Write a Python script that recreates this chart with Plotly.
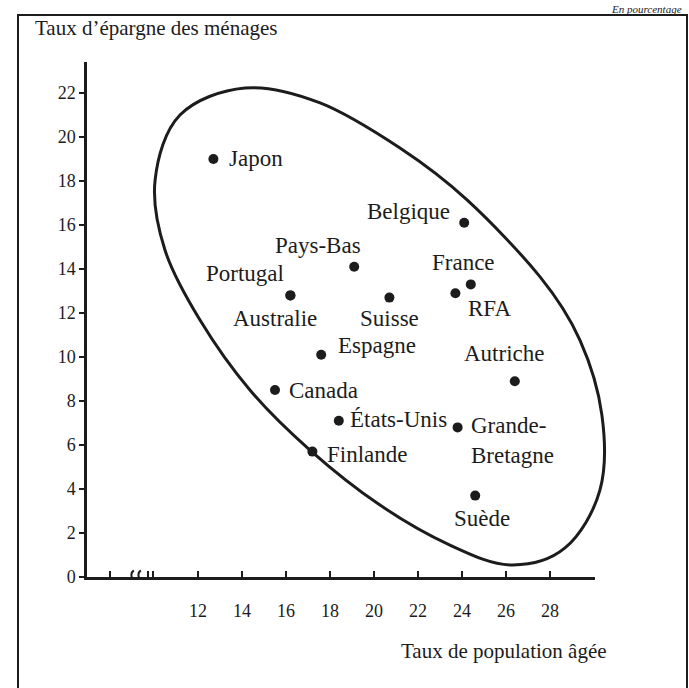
import plotly.graph_objects as go

# Pays et valeurs
pays = ["Japon", "Belgique", "Pays-Bas", "Portugal", "Australie", "Suisse",
        "France", "RFA", "Espagne", "Canada", "États-Unis", "Finlande",
        "Grande-<br>Bretagne", "Autriche", "Suède"]
pop_agee = [12.7, 24.1, 19.1, 16.2, 16.2, 20.7, 24.4, 23.7, 17.6, 15.5,
            18.4, 17.2, 23.8, 26.4, 24.6]
epargne = [19.0, 16.1, 14.1, 12.8, 12.8, 12.7, 13.3, 12.9, 10.1, 8.5,
           7.1, 5.7, 6.8, 8.9, 3.7]

x_ticks = [8, 9.73, 9.95, 12, 14, 16, 18, 20, 22, 24, 26, 28, 30]
x_ticktext = ["", "", "", "12", "14", "16", "18", "20", "22", "24", "26", "28", ""]
y_ticks = [0, 2, 4, 6, 8, 10, 12, 14, 16, 18, 20, 22]

# Contour tracé à la main autour du nuage
contour_x = [14.14, 17.55, 21.18, 24.23, 27.55, 29.36, 30.36, 30.27, 28.68,
             26.18, 23.45, 20.27, 17.09, 14.36, 12.09, 10.5, 10.05, 11.18]
contour_y = [22.23, 21.55, 19.5, 17.14, 13.64, 10.77, 7.36, 3.95, 1.32,
             0.55, 1.45, 3.27, 5.77, 8.5, 11.68, 14.86, 18.05, 21.0]

# Position des étiquettes (ancre, décalage en pixels par rapport au point)
decalages = {
    "Japon": ("left", 14, 1),
    "Belgique": ("right", -12, 11),
    "Pays-Bas": ("center", -36, 21),
    "Portugal": ("right", -4, 22),
    "Australie": ("center", -15, -23),
    "Suisse": ("center", 0, -21),
    "France": ("center", -7, 22),
    "RFA": ("left", 11, -15),
    "Espagne": ("left", 15, 9),
    "Canada": ("left", 12, 0),
    "États-Unis": ("left", 9, 1),
    "Finlande": ("left", 13, -3),
    "Grande-<br>Bretagne": ("left", 11, -13),
    "Autriche": ("center", -11, 28),
    "Suède": ("center", 7, -23),
}

W, H = 689, 688
L, R, T, B = 87, 94, 62, 111
pw, ph = W - L - R, H - T - B
X0 = 12 - (198 - L) / 22
X1 = 12 + (W - R - 198) / 22
Y1 = (H - B - T) / 22
police = "Liberation Serif"
noir = "#1c1c1c"


def px(x):
    return (x - L) / pw


def py(y):
    return (H - B - y) / ph


def paper(xv, yv):
    return (xv - X0) / (X1 - X0), yv / Y1


def chemin_lisse(xs, ys):
    # Catmull-Rom fermé converti en courbes de Bézier (coordonnées papier)
    pts = [paper(a, b) for a, b in zip(xs, ys)]
    n = len(pts)
    d = f"M {pts[0][0]:.4f},{pts[0][1]:.4f}"
    for i in range(n):
        p0, p1, p2, p3 = pts[i - 1], pts[i], pts[(i + 1) % n], pts[(i + 2) % n]
        c1 = (p1[0] + (p2[0] - p0[0]) / 6, p1[1] + (p2[1] - p0[1]) / 6)
        c2 = (p2[0] - (p3[0] - p1[0]) / 6, p2[1] - (p3[1] - p1[1]) / 6)
        d += (f" C {c1[0]:.4f},{c1[1]:.4f} {c2[0]:.4f},{c2[1]:.4f}"
              f" {p2[0]:.4f},{p2[1]:.4f}")
    return d + " Z"


fig = go.Figure()

fig.add_trace(go.Scatter(
    x=pop_agee, y=epargne, mode="markers",
    marker=dict(color=noir, size=10),
    showlegend=False, hoverinfo="skip",
))

for nom, xv, yv in zip(pays, pop_agee, epargne):
    ancre, dx, dy = decalages[nom]
    fig.add_annotation(
        x=xv, y=yv, text=nom, showarrow=False,
        xanchor=ancre, yanchor="middle", xshift=dx, yshift=dy,
        align="left", font=dict(family=police, size=23, color=noir),
    )

fig.add_shape(type="path", path=chemin_lisse(contour_x, contour_y),
              xref="paper", yref="paper", line=dict(color=noir, width=3))

# Coupure de l'axe des x
fig.add_shape(type="rect", x0=9.08, x1=9.32, y0=-0.2, y1=0.2,
              xref="x", yref="y", fillcolor="white", line=dict(width=0))
for xc in [9.04, 9.36]:
    fig.add_shape(
        type="path", xref="x", yref="y",
        path=(f"M {xc + 0.04},0.3 C {xc - 0.3},0.05 {xc + 0.3},-0.35 "
              f"{xc - 0.04},-0.6"),
        line=dict(color=noir, width=2),
    )

# Cadre
fig.add_shape(type="rect", xref="paper", yref="paper",
              x0=px(18), x1=px(687), y0=py(700), y1=py(15),
              line=dict(color=noir, width=2))

fig.add_annotation(xref="paper", yref="paper", x=px(33), y=py(28),
                   text="Taux d’épargne des ménages", showarrow=False,
                   xanchor="left", yanchor="middle",
                   font=dict(family=police, size=21, color=noir))
fig.add_annotation(xref="paper", yref="paper", x=px(609), y=py(651),
                   text="Taux de population âgée", showarrow=False,
                   xanchor="right", yanchor="middle",
                   font=dict(family=police, size=21, color=noir))
fig.add_annotation(xref="paper", yref="paper", x=px(684), y=py(1),
                   text="En pourcentage", showarrow=False,
                   xanchor="right", yanchor="top",
                   font=dict(family=police, size=11, color=noir, style="italic"))

fig.update_xaxes(
    range=[X0, X1],
    showline=True, linecolor=noir, linewidth=2.5, showgrid=False, zeroline=False,
    tickvals=x_ticks, ticktext=x_ticktext, ticks="inside", ticklen=6,
    tickcolor=noir, tickwidth=2, ticklabelstandoff=16,
    tickfont=dict(family=police, size=18, color=noir),
)
fig.update_yaxes(
    range=[0, Y1],
    showline=True, linecolor=noir, linewidth=2.5, showgrid=False, zeroline=False,
    tickvals=y_ticks, ticks="outside", ticklen=5, tickcolor=noir, tickwidth=2,
    ticklabelstandoff=0,
    tickfont=dict(family=police, size=18, color=noir),
)

fig.update_layout(
    width=W, height=H,
    margin=dict(l=L, r=R, t=T, b=B),
    plot_bgcolor="white", paper_bgcolor="white",
)

fig.write_html("out.html", config={"displayModeBar": False},
               post_script="document.body.style.margin = '0';")
